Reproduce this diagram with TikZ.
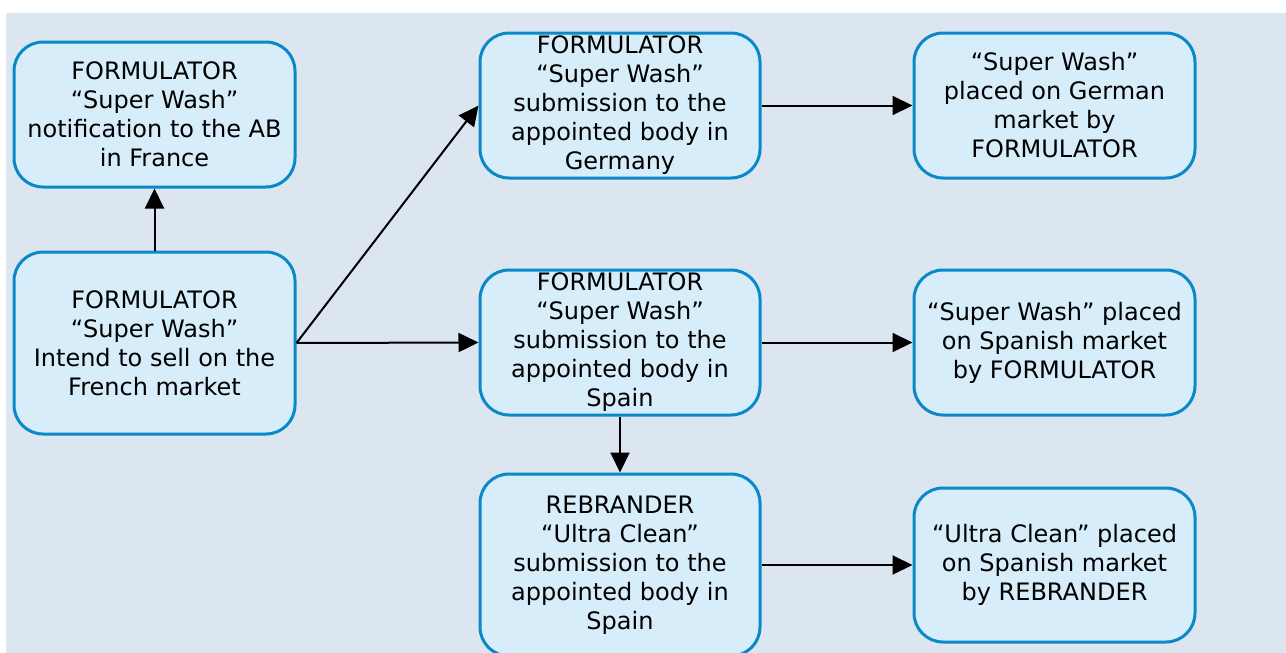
\documentclass[tikz,border=0pt]{standalone}
\usepackage{fontspec}
\setmainfont{DejaVu Sans}
\usetikzlibrary{arrows.meta}
\definecolor{bgcol}{RGB}{220,230,241}
\definecolor{boxfill}{RGB}{215,237,250}
\definecolor{boxline}{RGB}{10,137,200}
\tikzset{
  stepbox/.style={rectangle, rounded corners=29pt, draw=boxline, line width=3pt,
    fill=boxfill, align=center, inner sep=0pt, minimum width=281pt,
    font=\fontsize{24pt}{29pt}\selectfont, text=black},
  conn/.style={line width=2pt, draw=black, -{Triangle[length=20pt,width=19pt]}}
}
\begin{document}
\begin{tikzpicture}[x=1pt,y=-1pt]
\useasboundingbox (0,0) rectangle (1286,653);
\clip (0,0) rectangle (1286,653);
\fill[bgcol] (6,13) rectangle (1286,653);
\node[stepbox, minimum height=145pt] (A) at (154.5,114.5) {FORMULATOR\\“Super Wash”\\notification to the AB\\in France};
\node[stepbox, minimum height=182pt] (B) at (154.5,343) {FORMULATOR\\“Super Wash”\\Intend to sell on the\\French market};
\node[stepbox, minimum height=145pt, minimum width=280pt] (C) at (620,105.5) {FORMULATOR\\“Super Wash”\\submission to the\\appointed body in\\Germany};
\node[stepbox, minimum height=145pt, minimum width=280pt] (D) at (620,342.5) {FORMULATOR\\“Super Wash”\\submission to the\\appointed body in\\Spain};
\node[stepbox, minimum height=182pt, minimum width=280pt] (E) at (620,565) {REBRANDER\\“Ultra Clean”\\submission to the\\appointed body in\\Spain};
\node[stepbox, minimum height=145pt] (F) at (1054.5,105.5) {“Super Wash”\\placed on German\\market by\\FORMULATOR};
\node[stepbox, minimum height=145pt] (G) at (1054.5,342.5) {“Super Wash” placed\\on Spanish market\\by FORMULATOR};
\node[stepbox, minimum height=154pt] (H) at (1054.5,565) {“Ultra Clean” placed\\on Spanish market\\by REBRANDER};
\draw[conn] (B.north) -- (A.south);
\draw[conn] (B.east) -- (C.west);
\draw[conn] (B.east) -- (D.west);
\draw[conn] (C.east) -- (F.west);
\draw[conn] (D.east) -- (G.west);
\draw[conn] (D.south) -- (E.north);
\draw[conn] (E.east) -- (H.west);
\end{tikzpicture}
\end{document}
